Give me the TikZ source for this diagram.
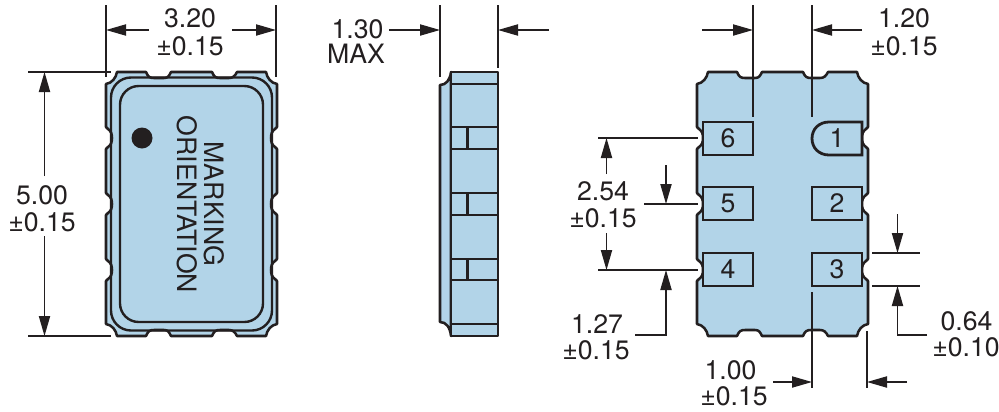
\documentclass[tikz,border=0pt]{standalone}
\usepackage{fontspec}
\setmainfont{TeX Gyre Heros}
\usetikzlibrary{arrows.meta}
\definecolor{pkgblue}{HTML}{B2D4E8}
\definecolor{ink}{HTML}{231F20}
\tikzset{
  x=0.75pt,y=-0.75pt,
  outln/.style={draw=ink,line width=1.9pt,line join=round,fill=pkgblue},
  ringln/.style={draw=ink,line width=1.8pt},
  dimln/.style={draw=ink,line width=1pt},
  extln/.style={draw=ink,line width=1pt},
  arr/.style={dimln,-{Triangle[length=15pt,width=8.4pt]}},
  dimtext/.style={anchor=base,inner sep=0pt,text=ink,font=\fontsize{20}{24}\selectfont},
  padlabel/.style={inner sep=0pt,text=ink,font=\fontsize{20}{24}\selectfont},
  padbox/.style={draw=ink,line width=2.1pt,fill=pkgblue,minimum width=37.5pt,minimum height=24.75pt,inner sep=0pt,text=ink,font=\fontsize{20}{24}\selectfont},
  marktext/.style={inner sep=0pt,text=ink,rotate=-90,font=\fontsize{20}{24}\selectfont},
}
% package outline, in pixels of the right-hand view
\def\pkgoutline{
  (708,72) -- (737,72) .. controls (739,77) and (741,78) .. (745,78) -- (755,78) .. controls (759,78) and (760,76) .. (762,72)
  -- (803,72) .. controls (805,77) and (807,78) .. (811,78) -- (820,78) .. controls (824,78) and (826,76) .. (828,72)
  -- (857,72) .. controls (858,78) and (862,83) .. (868,84)
  -- (868,127) -- (866,129) .. controls (863,131) and (862,134) .. (862,138) .. controls (862,142) and (863,145) .. (866,147) -- (868,149)
  -- (868,193) -- (866,195) .. controls (863,197) and (862,200) .. (862,204) .. controls (862,208) and (863,211) .. (866,213) -- (868,215)
  -- (868,259) -- (866,261) .. controls (863,263) and (862,266) .. (862,270) .. controls (862,274) and (863,277) .. (866,279) -- (868,281)
  -- (868,324) .. controls (862,325) and (858,330) .. (857,336)
  -- (828,336) .. controls (826,332) and (824,330) .. (820,330) -- (811,330) .. controls (807,330) and (805,331) .. (803,336)
  -- (762,336) .. controls (760,332) and (759,330) .. (755,330) -- (745,330) .. controls (741,330) and (739,331) .. (737,336)
  -- (708,336) .. controls (707,330) and (703,325) .. (697,324)
  -- (697,281) -- (699,279) .. controls (702,277) and (703,274) .. (703,270) .. controls (703,266) and (702,263) .. (699,261) -- (697,259)
  -- (697,215) -- (699,213) .. controls (702,211) and (703,208) .. (703,204) .. controls (703,200) and (702,197) .. (699,195) -- (697,193)
  -- (697,149) -- (699,147) .. controls (702,145) and (703,142) .. (703,138) .. controls (703,134) and (702,131) .. (699,129) -- (697,127)
  -- (697,84) .. controls (703,83) and (707,78) .. (708,72) -- cycle
}
\begin{document}
\begin{tikzpicture}
\useasboundingbox (0,0) rectangle (999,411);
% ---------- left view ----------
\begin{scope}[xshift=-443.25pt]
  \path[outln] \pkgoutline;
\end{scope}
\draw[ringln,rounded corners=15pt] (111,77.5) rectangle (272,330.5);
\draw[ringln,rounded corners=14pt] (120,86) rectangle (263,322);
\fill[ink] (142,138) circle[radius=10.5];
\node[marktext] (mark) at (214.5,204) {MARKING};
\node[marktext] (orient) at (187.5,204.5) {ORIENTATION};
% left dimensions
\coordinate (wL) at (106,5); \coordinate (wLb) at (106,77);
\coordinate (wR) at (276,5); \coordinate (wRb) at (276,77);
\draw[extln] (wL) -- (wLb);
\draw[extln] (wR) -- (wRb);
\coordinate (wLa) at (149,30); \coordinate (wLt) at (106,30);
\coordinate (wRa) at (232,30); \coordinate (wRt) at (276,30);
\draw[arr] (wLa) -- (wLt);
\draw[arr] (wRa) -- (wRt);
\node[dimtext] (t320) at (190,27.5) {3.20};
\node[dimtext] (t320b) at (190,55) {±0.15};
\coordinate (hT) at (28,72); \coordinate (hTe) at (111,72);
\coordinate (hB) at (28,336); \coordinate (hBe) at (111,336);
\draw[extln] (hT) -- (hTe);
\draw[extln] (hB) -- (hBe);
\coordinate (hTa) at (44.5,176); \coordinate (hTt) at (44.5,72);
\coordinate (hBa) at (44.5,236); \coordinate (hBt) at (44.5,336);
\draw[arr] (hTa) -- (hTt);
\draw[arr] (hBa) -- (hBt);
\node[dimtext] (t500) at (42,204.5) {5.00};
\node[dimtext] (t500b) at (42,231.5) {±0.15};
% ---------- middle view ----------
\path[outln] (451,72) .. controls (450,80) and (446,85) .. (440,85) -- (440,322) .. controls (446,322) and (450,327) .. (451,336) -- cycle;
\path[outln] (451,72) rectangle (498,336);
\foreach \yy in {84,127,149,193,215,259,280,324} \draw[ringln] (451,\yy) -- (498,\yy);
\foreach \ya/\yb in {127/149,193/215,259/280} \draw[ringln] (467.5,\ya) -- (467.5,\yb);
\coordinate (tL) at (440,5); \coordinate (tLb) at (440,77);
\coordinate (tR) at (498,5); \coordinate (tRb) at (498,68);
\draw[extln] (tL) -- (tLb);
\draw[extln] (tR) -- (tRb);
\coordinate (tLa) at (389,30); \coordinate (tLt) at (440,30);
\coordinate (tRa) at (549,30); \coordinate (tRt) at (498,30);
\draw[arr] (tLa) -- (tLt);
\draw[arr] (tRa) -- (tRt);
\node[dimtext] (t130) at (357.5,38.5) {1.30};
\node[dimtext] (tmax) at (356,63.5) {MAX};
% ---------- right view ----------
\path[outln] \pkgoutline;
\node[padbox] (p6) at (728,138.5) {6};
\node[padbox] (p5) at (728,203.5) {5};
\node[padbox] (p4) at (728,269.5) {4};
\node[padbox] (p2) at (837,203.5) {2};
\node[padbox] (p3) at (837,269.5) {3};
\draw[draw=ink,line width=2.1pt,fill=pkgblue] (862,122) -- (829,122) .. controls (819,122) and (812,129) .. (812,138.5) .. controls (812,148) and (819,155) .. (829,155) -- (862,155) -- cycle;
\node[padlabel] (p1) at (837,138.5) {1};
% right dimensions
\coordinate (aL) at (753,5); \coordinate (aLb) at (753,117);
\coordinate (aR) at (812,5); \coordinate (aRb) at (812,117);
\draw[extln] (aL) -- (aLb);
\draw[extln] (aR) -- (aRb);
\coordinate (aLa) at (702,30); \coordinate (aLt) at (753,30);
\coordinate (aRa) at (862,30); \coordinate (aRt) at (812,30);
\draw[arr] (aLa) -- (aLt);
\draw[arr] (aRa) -- (aRt);
\node[dimtext] (t120) at (904,27.5) {1.20};
\node[dimtext] (t120b) at (904,55) {±0.15};
\coordinate (e6a) at (598,138); \coordinate (e6b) at (698,138);
\coordinate (e5a) at (644,204); \coordinate (e5b) at (698,204);
\coordinate (e4a) at (598,270); \coordinate (e4b) at (698,270);
\draw[extln] (e6a) -- (e6b);
\draw[extln] (e5a) -- (e5b);
\draw[extln] (e4a) -- (e4b);
\coordinate (s1) at (606.5,174); \coordinate (s1t) at (606.5,138);
\coordinate (s2) at (606.5,233); \coordinate (s2t) at (606.5,270);
\coordinate (s3) at (666,165); \coordinate (s3t) at (666,204);
\coordinate (s4) at (635,335); \coordinate (s4c) at (666,335); \coordinate (s4t) at (666,270);
\draw[arr] (s1) -- (s1t);
\draw[arr] (s2) -- (s2t);
\draw[arr] (s3) -- (s3t);
\draw[arr] (s4) -- (s4c) -- (s4t);
\node[dimtext] (t254) at (603,200.5) {2.54};
\node[dimtext] (t254b) at (603,227.5) {±0.15};
\node[dimtext] (t127) at (597,333.5) {1.27};
\node[dimtext] (t127b) at (596,359.5) {±0.15};
\coordinate (g3a) at (872,253); \coordinate (g3b) at (920,253);
\coordinate (g4a) at (872,286); \coordinate (g4b) at (920,286);
\draw[extln] (g3a) -- (g3b);
\draw[extln] (g4a) -- (g4b);
\coordinate (g1) at (897.5,214); \coordinate (g1t) at (897.5,253);
\coordinate (g2) at (927,335); \coordinate (g2c) at (897.5,335); \coordinate (g2t) at (897.5,286);
\draw[arr] (g1) -- (g1t);
\draw[arr] (g2) -- (g2c) -- (g2t);
\node[dimtext] (t064) at (966.5,330.5) {0.64};
\node[dimtext] (t064b) at (966,356.5) {±0.10};
\coordinate (bL) at (812,292); \coordinate (bLb) at (812,388);
\coordinate (bR) at (867,331); \coordinate (bRb) at (867,388);
\draw[extln] (bL) -- (bLb);
\draw[extln] (bR) -- (bRb);
\coordinate (bLa) at (773,382); \coordinate (bLt) at (812,382);
\coordinate (bRa) at (907,382); \coordinate (bRt) at (867,382);
\draw[arr] (bLa) -- (bLt);
\draw[arr] (bRa) -- (bRt);
\node[dimtext] (t100) at (730.5,379.5) {1.00};
\node[dimtext] (t100b) at (734,405.5) {±0.15};
\end{tikzpicture}
\end{document}
